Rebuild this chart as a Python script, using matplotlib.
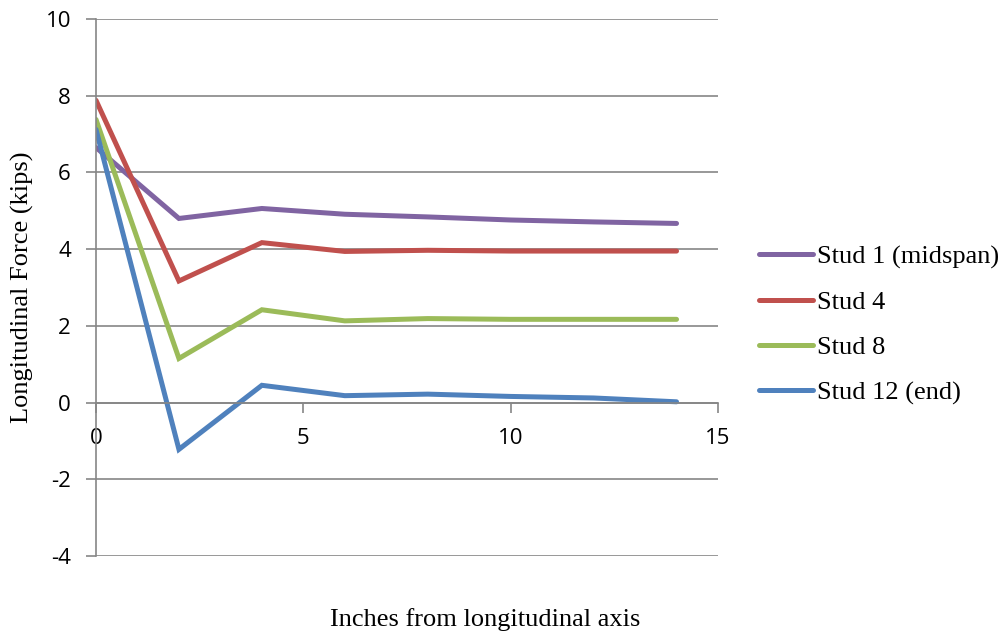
import matplotlib.pyplot as plt

plt.rcParams["axes.unicode_minus"] = False

# data
x = [0, 2, 4, 6, 8, 10, 12, 14]
stud1 = [6.65, 4.8, 5.06, 4.91, 4.84, 4.76, 4.71, 4.67]
stud4 = [7.88, 3.17, 4.17, 3.94, 3.97, 3.95, 3.95, 3.95]
stud8 = [7.38, 1.15, 2.42, 2.13, 2.19, 2.17, 2.17, 2.17]
stud12 = [7.12, -1.22, 0.45, 0.18, 0.22, 0.16, 0.12, 0.02]

labels = ["Stud 1 (midspan)", "Stud 4", "Stud 8", "Stud 12 (end)"]
colors = ["#8064A2", "#C0504D", "#9BBB59", "#4F81BD"]

grid_col = "#868686"

fig = plt.figure(figsize=(10.04, 6.36), dpi=100)
ax = fig.add_axes([96/1004, 1-556/636, (718-96)/1004, (556-19)/636])

for vals, lab, c in zip([stud1, stud4, stud8, stud12], labels, colors):
    ax.plot(x, vals, color=c, lw=3.6, label=lab, solid_capstyle="round", solid_joinstyle="miter")

ax.set_xlim(0, 15)
ax.set_ylim(-4, 10)
ax.set_xticks([0, 5, 10, 15])
ax.set_yticks(range(-4, 11, 2))
ax.yaxis.grid(True, color=grid_col, lw=1.2)
ax.set_axisbelow(True)

for s in ["top", "right"]:
    ax.spines[s].set_visible(False)
ax.spines["bottom"].set_position(("data", 0))
ax.spines["left"].set_color(grid_col)
ax.spines["bottom"].set_color(grid_col)
ax.spines["left"].set_linewidth(1.2)
ax.spines["bottom"].set_linewidth(1.2)

ax.tick_params(axis="x", direction="out", length=7, width=1.2, color=grid_col, pad=11,
               labelsize=16, labelfontfamily="Open Sans")
ax.tick_params(axis="y", direction="out", length=7, width=1.2, color=grid_col, pad=11,
               labelsize=16, labelfontfamily="Open Sans")

fig.text(22/1004, 1-287/636, "Longitudinal Force (kips)", fontfamily="Liberation Serif",
         fontsize=19, rotation=90, ha="center", va="center")
fig.text(485/1004, 1-620/636, "Inches from longitudinal axis", fontfamily="Liberation Serif",
         fontsize=19, ha="center", va="center")

leg = ax.legend(loc="center left", bbox_to_anchor=(759/1004, 1-325/636), bbox_transform=fig.transFigure,
                frameon=False, prop={"family": "Liberation Serif", "size": 19},
                handlelength=2.05, handletextpad=0.15, labelspacing=0.82, borderaxespad=0, borderpad=0)

fig.savefig("out.png", dpi=100)
